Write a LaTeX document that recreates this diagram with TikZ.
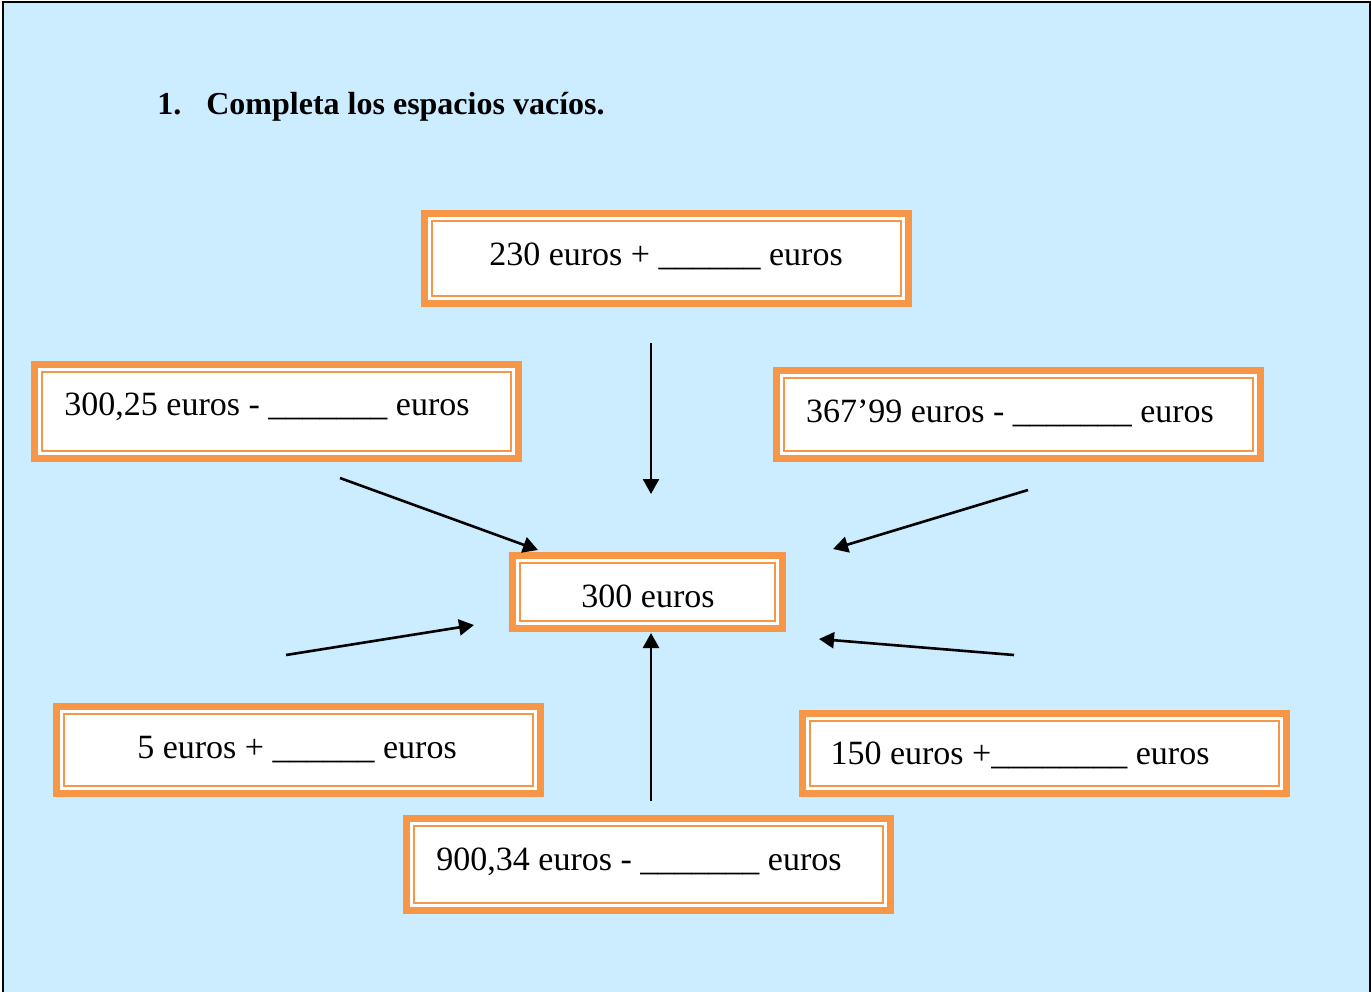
\documentclass[tikz,border=0pt]{standalone}
\usepackage{fontspec}
\setmainfont{Liberation Serif}
\usetikzlibrary{arrows.meta}
\definecolor{bgblue}{HTML}{CCECFF}
\definecolor{boxorange}{HTML}{F79646}
\tikzset{
  frame/.style={rectangle, fill=white, draw=boxorange, line width=3.5pt, inner sep=0pt, outer sep=0pt,
    path picture={\draw[boxorange, line width=0.8pt]
      ([shift={(7.5,7.5)}]path picture bounding box.north west) rectangle
      ([shift={(-7.5,-7.5)}]path picture bounding box.south east);}},
  txt/.style={anchor=base, inner sep=0pt, font=\fontsize{17}{20}\selectfont},
  arr/.style={line width=1.3pt, -{Triangle[length=7.5pt, width=8pt]}}
}
\begin{document}
\begin{tikzpicture}[x=0.5pt, y=-0.5pt]
\useasboundingbox (0,0) rectangle (1371,991);
\clip (0,0) rectangle (1371,991);
\fill[white] (0,0) rectangle (1371,991);
\draw[fill=bgblue, line width=1pt] (3,1.5) rectangle (1369.5,1000);
% title
\node[anchor=base west, inner sep=0pt, font=\bfseries\fontsize{16}{19}\selectfont] (title) at (157,114)
  {1.\hspace{12.5pt}Completa los espacios vacíos.};
% boxes (outer extents minus 7px for the thick stroke; sizes in pt = px/2)
\node[frame, minimum width=242pt, minimum height=45pt] (top) at (666.5,258.5) {};
\node[frame, minimum width=242pt, minimum height=47pt] (left) at (276.5,411.5) {};
\node[frame, minimum width=242pt, minimum height=44pt] (right) at (1018.5,414.5) {};
\node[frame, minimum width=135pt, minimum height=36.5pt] (center) at (647.5,592) {};
\node[frame, minimum width=242pt, minimum height=43.5pt] (five) at (298.5,750) {};
\node[frame, minimum width=242pt, minimum height=40pt] (onefifty) at (1044.5,753.5) {};
\node[frame, minimum width=242pt, minimum height=46pt] (bottom) at (648.5,864.5) {};
% texts
\node[txt] (ttop) at (666,265) {230 euros + \_\_\_\_\_\_ euros};
\node[txt] (tleft) at (267,415) {300,25 euros - \_\_\_\_\_\_\_ euros};
\node[txt] (tright) at (1010,422) {367’99 euros - \_\_\_\_\_\_\_ euros};
\node[txt] (tcenter) at (648,607) {300 euros};
\node[txt] (tfive) at (297,758) {5 euros + \_\_\_\_\_\_ euros};
\node[txt] (tonefifty) at (1020,764) {150 euros +\_\_\_\_\_\_\_\_ euros};
\node[txt] (tbottom) at (639,870) {900,34 euros - \_\_\_\_\_\_\_ euros};
% arrow end points
\coordinate (a1s) at (651,343); \coordinate (a1e) at (651,494);
\coordinate (a2s) at (340,478); \coordinate (a2e) at (538,550);
\coordinate (a3s) at (1028,490); \coordinate (a3e) at (833,549);
\coordinate (a4s) at (286,655); \coordinate (a4e) at (474,625);
\coordinate (a5s) at (1014,655); \coordinate (a5e) at (819,639);
\coordinate (a6s) at (651,801); \coordinate (a6e) at (651,633);
\draw[arr] (a1s) -- (a1e);
\draw[arr] (a2s) -- (a2e);
\draw[arr] (a3s) -- (a3e);
\draw[arr] (a4s) -- (a4e);
\draw[arr] (a5s) -- (a5e);
\draw[arr] (a6s) -- (a6e);
\end{tikzpicture}
\end{document}
